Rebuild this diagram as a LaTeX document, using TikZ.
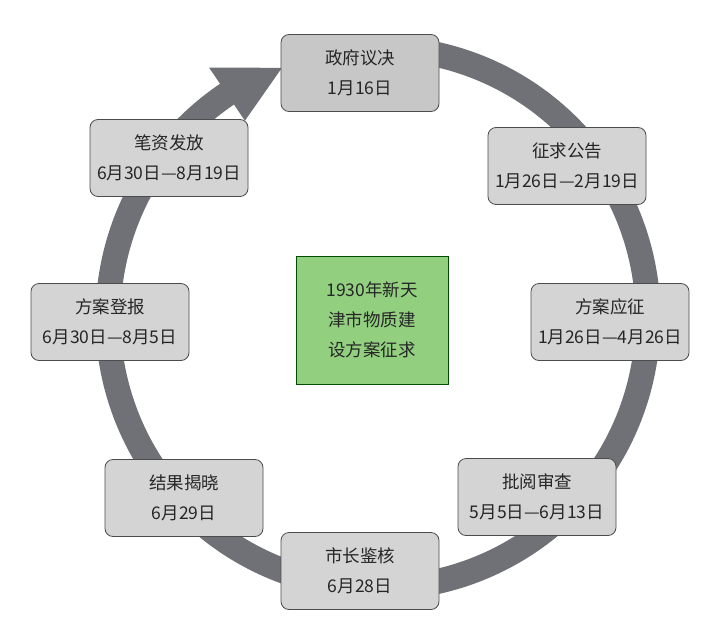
\documentclass[tikz,border=0pt]{standalone}
\usepackage{fontspec}
\setmainfont{Noto Sans CJK SC}
\definecolor{ringg}{RGB}{112,113,118}
\begin{document}
\begin{tikzpicture}[x=1pt,y=-1pt,
  box/.style={draw=black!70,line width=0.8pt,fill=black!17,rounded corners=8pt,minimum width=158pt,minimum height=77pt,align=center,font=\fontsize{17.5}{30}\selectfont,text=black!85}]
\useasboundingbox (0,0) rectangle (725,621);
\fill[white] (0,0) rectangle (725,621);
\begin{scope}[shift={(378,318)},y=1pt]
  \draw[draw=ringg,line width=25pt] (80:270) arc[start angle=80,end angle=-237,radius=270];
  \fill[ringg] (124:238) -- (124:302) -- (111:268) -- cycle;
\end{scope}
\node[box,fill=black!22] (n1) at (360,73) {政府议决\\1月16日};
\node[box] (n2) at (567,166) {征求公告\\1月26日—2月19日};
\node[box] (n3) at (610,322) {方案应征\\1月26日—4月26日};
\node[box] (n4) at (537,497) {批阅审查\\5月5日—6月13日};
\node[box] (n5) at (360,571) {市长鉴核\\6月28日};
\node[box] (n6) at (184,498) {结果揭晓\\6月29日};
\node[box] (n7) at (110,322) {方案登报\\6月30日—8月5日};
\node[box] (n8) at (169,158) {笔资发放\\6月30日—8月19日};
\node[draw=black!70!green,line width=0.8pt,fill={rgb,255:red,146;green,208;blue,128},minimum width=152pt,minimum height=128pt,align=center,font=\fontsize{17.5}{30}\selectfont,text=black!85] (ctr) at (372,320) {1930年新天\\津市物质建\\设方案征求};
\end{tikzpicture}
\end{document}
